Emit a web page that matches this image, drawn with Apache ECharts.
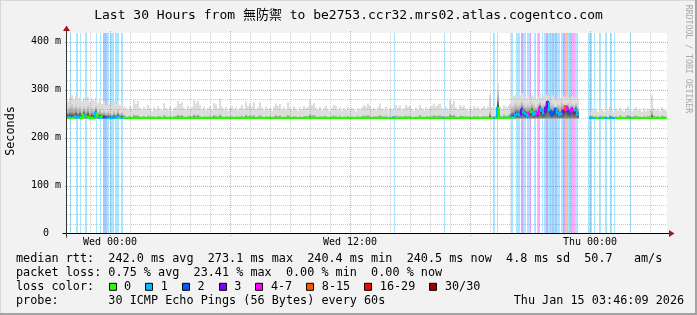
<!DOCTYPE html>
<html><head><meta charset="utf-8">
<script src="https://cdn.jsdelivr.net/npm/echarts@6/dist/echarts.min.js"></script>
<style>html,body{margin:0;padding:0;background:#f2f2f2}#c{width:697px;height:315px}</style>
</head><body><div id="c"></div><script>
// ---- time base (hours relative to Wed 00:00) ----
const startHour = -2.15;
const endHour = 27.85;
const smokeStepHours = 0.1;   // smoke / median columns (6 min)
const lossStepHours = 0.05;   // loss steps (3 min)
const smokeFloor = 240;       // lowest ping (ms)

// ---- smoke: highest ping per column (ms) ----
const smokeTop = [
275,283,288,280,286,279,284,276,282,278,285,274,281,277,283,272,279,270,276,268,274,270,266,276,270,279,268,272,265,
262,258,266,260,278,270,276,262,257,264,
259,268,261,255,263,258,266,260,257,272,
262,258,265,256,261,264,276,270,274,262,
258,266,260,263,278,271,277,268,259,264,
257,262,266,258,272,269,261,281,265,258,
263,256,261,266,259,263,257,262,268,260,
275,266,271,264,274,259,263,274,262,257,
265,259,262,256,264,271,266,270,259,263,
257,274,262,258,265,260,256,263,259,266,
261,264,278,268,272,262,258,264,257,261,
266,259,255,262,268,266,259,263,256,261,
258,264,257,262,259,255,261,258,263,268,
264,271,266,259,262,257,263,271,260,258,
264,257,261,259,263,268,262,267,258,261,
268,264,267,259,256,262,258,268,261,257,
263,259,262,266,271,265,269,271,262,258,
264,260,278,270,276,263,259,268,264,267,
260,257,263,259,266,261,264,258,262,266,
260,264,289,263,266,
262,313,265,260,268,263,266,270,
282,286,290,284,288,292,285,281,287,283,289,285,280,286,291,284,288,292,287,282,289,285,280,287,283,290,286,284,289,282,286,283,288,280,
null,null,null,null,null,
258,262,256,260,254,263,259,255,261,257,264,258,253,260,256,262,257,254,261,265,258,255,260,263,257,259,254,261,256,260,258,289,262,257,260,255,263,258,256
];
// ---- smoke: upper edge of the dense core per column (ms) ----
const smokeMid = [
262,266,270,264,268,262,267,258,265,260,268,257,263,259,266,255,261,254,258,252,256,253,250,257,252,259,251,254,249,
245,244,246,244,249,247,248,245,243,246,
244,247,245,243,245,244,246,245,243,248,
245,244,246,243,245,246,249,247,248,245,
244,246,245,245,250,247,249,246,244,245,
243,245,246,244,248,247,245,250,246,244,
245,243,245,246,244,245,243,245,247,244,
249,246,248,245,248,244,245,248,245,243,
246,244,245,243,245,248,246,247,244,245,
243,248,245,244,246,244,243,245,244,246,
245,246,250,247,248,245,244,246,243,245,
246,244,243,245,247,246,244,245,243,245,
244,246,243,245,244,243,245,244,246,247,
246,248,246,244,245,243,246,248,245,244,
246,243,245,244,245,247,245,246,244,245,
247,245,246,244,243,245,244,247,245,243,
245,244,245,246,248,246,247,248,245,244,
246,245,250,247,249,245,244,247,246,246,
245,243,245,244,246,245,246,244,245,246,
244,246,255,245,246,
247,300,248,245,249,246,248,252,
266,270,274,268,272,276,270,266,271,267,273,269,265,270,275,268,272,277,280,266,273,269,264,271,267,275,270,268,273,266,270,267,272,264,
null,null,null,null,null,
245,247,244,246,244,247,245,244,246,243,248,245,244,246,244,247,244,243,246,248,245,243,246,247,244,245,243,246,244,246,245,258,247,244,246,243,247,245,244
];
// ---- median rtt per column (ms) ----
const medianRtt = [
242,243,241,242,245,242,244,241,248,243,244,241,242,241,252,244,241,243,242,242,241,241,242,241,242,243,242,241,241,
241,241,242,241,241,242,241,241,241,242,
241,241,241,242,241,241,241,242,241,241,
242,241,241,241,241,242,241,241,242,241,
241,241,242,241,241,241,242,241,241,241,
242,241,241,241,242,241,241,241,242,241,
241,242,241,241,241,241,242,241,241,241,
242,241,241,242,241,241,241,241,242,241,
241,241,242,241,241,241,241,242,241,241,
241,242,241,241,241,242,241,241,241,241,
242,241,241,241,242,241,241,241,241,242,
241,241,241,242,241,241,241,242,241,241,
241,242,241,241,241,241,242,241,241,241,
242,241,241,241,241,242,241,241,241,242,
241,241,241,241,242,241,241,241,242,241,
241,241,242,241,241,241,241,242,241,241,
241,242,241,241,241,242,241,241,241,242,
241,241,241,242,241,241,241,241,242,241,
241,242,241,241,241,241,242,241,241,241,
242,241,241,241,241,
241,262,242,241,241,242,241,242,
243,242,247,250,246,258,252,249,245,251,255,247,252,249,262,256,250,262,274,257,248,253,260,251,246,250,256,266,258,252,260,255,258,247,
null,null,null,null,null,
242,241,241,242,241,241,241,242,241,241,241,242,241,241,241,241,242,241,241,241,242,241,241,241,242,241,241,241,241,242,241,241,241,242,241,241,241,242,241
];
// ---- packet loss (3-minute step index from graph start, lost pings out of 30) ----
const lossStep = [
3,9,10,13,18,19,29,33,36,37,38,39,40,41,43,44,45,46,48,49,50,51,54,55,
327,377,
426,427,430,
444,445,449,450,451,452,454,455,456,457,458,460,461,462,463,467,468,470,471,472,475,477,478,479,480,481,482,483,484,485,486,487,488,489,490,491,492,494,495,496,497,498,499,500,501,502,503,504,505,506,507,508,509,510,
521,522,523,524,527,532,533,538,539,543,544,547,563
];
const lossCount = [
1,1,1,1,1,1,1,1,2,2,2,2,1,1,1,1,1,1,1,1,1,1,1,1,
1,1,
1,1,1,
1,1,1,1,1,1,3,3,1,1,1,1,1,1,5,1,1,1,5,5,1,1,1,3,3,1,1,1,1,2,2,1,2,2,1,1,1,1,1,3,3,5,9,5,1,2,1,2,5,5,5,1,1,1,
1,1,1,1,1,1,1,1,1,1,1,1,1
];
// ---- ticks / legend ----
const xTickHours = [0, 12, 24];
const xTickLabels = ['Wed 00:00', 'Wed 12:00', 'Thu 00:00'];
const yTicks = [0, 100, 200, 300, 400];
const lossLabels = ['0', '1', '2', '3', '4-7', '8-15', '16-29', '30/30'];
const lossColors = ['#26ff00', '#00b8ff', '#0059ff', '#7e00ff', '#ff00ff', '#ff5500', '#ff0000', '#a10000'];
const titleText = 'Last 30 Hours from 無防禦 to be2753.ccr32.mrs02.atlas.cogentco.com';
const statLines = [
  'median rtt:  242.0 ms avg  273.1 ms max  240.4 ms min  240.5 ms now  4.8 ms sd  50.7   am/s',
  'packet loss: 0.75 % avg  23.41 % max  0.00 % min  0.00 % now'
];
const probeText = 'probe:       30 ICMP Echo Pings (56 Bytes) every 60s';
const dateText = 'Thu Jan 15 03:46:09 2026';

// ---------------------------------------------------------------
const MONO = "'DejaVu Sans Mono', 'Noto Sans CJK TC', monospace";
const G = {left: 67, top: 33, width: 600, height: 200.5};
const yMax = 418;
function bucket(c) { if (c <= 0) return 0; if (c <= 3) return c; if (c <= 7) return 4; if (c <= 15) return 5; if (c <= 29) return 6; return 7; }
const lossAt = new Map(lossStep.map((s, i) => [s, lossCount[i]]));

const lossData = lossStep.map((s, i) => [startHour + s * lossStepHours, startHour + (s + 1) * lossStepHours, bucket(lossCount[i])]);
const smokeData = [], medianData = [];
let prev = null;
for (let k = 0; k < smokeTop.length; k++) {
  const x0 = startHour + k * smokeStepHours, x1 = x0 + smokeStepHours;
  if (smokeTop[k] != null) smokeData.push([x0, x1, smokeTop[k], smokeMid[k], medianRtt[k]]);
  const m = medianRtt[k];
  if (m == null) { prev = null; continue; }
  const c = Math.max(lossAt.get(2 * k) || 0, lossAt.get(2 * k + 1) || 0);
  medianData.push([x0, x1, prev == null ? m : prev, m, bucket(c)]);
  prev = m;
}
const vGrid = [], hGrid = [];
for (let h = Math.ceil(startHour); h <= Math.floor(endHour); h++) vGrid.push([h, 0, h % 6 === 0 ? 1 : 0]);
for (let v = 20; v <= yMax; v += 20) hGrid.push([startHour, v, v % 100 === 0 ? 1 : 0]);

const MINOR = 'rgba(128,128,128,0.4)', MAJOR = 'rgba(255,0,0,0.4)';

const chart = echarts.init(document.getElementById('c'), null, {renderer: 'canvas', width: 697, height: 315});

const graphics = [];
// frame
graphics.push({type: 'rect', shape: {x: 0, y: 0, width: 697, height: 1}, style: {fill: '#d8d8d8'}, silent: true});
graphics.push({type: 'rect', shape: {x: 0, y: 0, width: 1, height: 315}, style: {fill: '#d8d8d8'}, silent: true});
graphics.push({type: 'rect', shape: {x: 695, y: 0, width: 2, height: 315}, style: {fill: '#a4a4a4'}, silent: true});
graphics.push({type: 'rect', shape: {x: 0, y: 313, width: 697, height: 2}, style: {fill: '#a4a4a4'}, silent: true});
// title & side texts
graphics.push({type: 'text', x: 348.5, y: 15.5, style: {text: titleText, fontFamily: MONO, fontSize: 13, fill: '#000', align: 'center', verticalAlign: 'middle', textAlign: 'center', textVerticalAlign: 'middle'}});
graphics.push({type: 'text', x: 10.5, y: 131, rotation: Math.PI / 2, style: {text: 'Seconds', fontFamily: MONO, fontSize: 11.8, fill: '#000', align: 'center', verticalAlign: 'middle', textAlign: 'center', textVerticalAlign: 'middle'}});
graphics.push({type: 'text', x: 688, y: 59, rotation: -Math.PI / 2, style: {text: 'RRDTOOL / TOBI OETIKER', fontFamily: MONO, fontSize: 8.2, fill: '#a8a8a8', align: 'center', verticalAlign: 'middle', textAlign: 'center', textVerticalAlign: 'middle'}});
// stats lines
const LX = 16, CW = 7.1, LFS = 11.8;
const lineY = [259.3, 273.3, 287.3, 300.7];
statLines.forEach((t, i) => graphics.push({type: 'text', x: LX, y: lineY[i], style: {text: t, fontFamily: MONO, fontSize: LFS, fill: '#000', align: 'left', verticalAlign: 'middle', textAlign: 'left', textVerticalAlign: 'middle'}}));
graphics.push({type: 'text', x: LX, y: lineY[2], style: {text: 'loss color:', fontFamily: MONO, fontSize: LFS, fill: '#000', align: 'left', verticalAlign: 'middle', textAlign: 'left', textVerticalAlign: 'middle'}});
let bx = 108.7;
lossLabels.forEach((lab, i) => {
  graphics.push({type: 'rect', shape: {x: Math.round(bx) + 0.5, y: lineY[2] - 4, width: 7, height: 7}, style: {fill: lossColors[i], stroke: '#000', lineWidth: 1}});
  const tx = bx + 15.4;
  graphics.push({type: 'text', x: tx, y: lineY[2], style: {text: lab, fontFamily: MONO, fontSize: LFS, fill: '#000', align: 'left', verticalAlign: 'middle', textAlign: 'left', textVerticalAlign: 'middle'}});
  bx = tx + lab.length * CW + 14.2;
});
graphics.push({type: 'text', x: LX, y: lineY[3], style: {text: probeText, fontFamily: MONO, fontSize: LFS, fill: '#000', align: 'left', verticalAlign: 'middle', textAlign: 'left', textVerticalAlign: 'middle'}});
graphics.push({type: 'text', x: 513.7, y: lineY[3], style: {text: dateText, fontFamily: MONO, fontSize: LFS, fill: '#000', align: 'left', verticalAlign: 'middle', textAlign: 'left', textVerticalAlign: 'middle'}});
// axes with arrows (rrdtool style)
const X0 = G.left - 0.5, Y0 = G.top + G.height, XR = G.left + G.width, YT = G.top;
graphics.push({type: 'line', z: 100, shape: {x1: X0 - 4, y1: Y0, x2: XR + 4, y2: Y0}, style: {stroke: '#000', lineWidth: 1}});
graphics.push({type: 'line', z: 100, shape: {x1: X0, y1: Y0 + 4, x2: X0, y2: YT - 4}, style: {stroke: '#333', lineWidth: 1}});
graphics.push({type: 'polygon', z: 100, shape: {points: [[XR + 2, Y0 - 3.5], [XR + 2, Y0 + 3.5], [XR + 7.5, Y0]]}, style: {fill: '#a01818'}});
graphics.push({type: 'polygon', z: 100, shape: {points: [[X0 - 3.5, YT - 2], [X0 + 3.5, YT - 2], [X0, YT - 7.5]]}, style: {fill: '#a01818'}});

chart.setOption({
  animation: false,
  backgroundColor: '#f2f2f2',
  grid: {left: G.left, top: G.top, width: G.width, height: G.height, show: true, backgroundColor: '#ffffff', borderWidth: 0},
  xAxis: {
    type: 'value', min: startHour, max: endHour,
    axisLine: {show: false}, axisTick: {show: false}, splitLine: {show: false},
    axisLabel: {customValues: xTickHours, formatter: v => xTickLabels[xTickHours.indexOf(v)] || '', fontFamily: MONO, fontSize: 10, color: '#000', margin: 4}
  },
  yAxis: {
    type: 'value', min: 0, max: yMax,
    axisLine: {show: false}, axisTick: {show: false}, splitLine: {show: false},
    axisLabel: {customValues: yTicks, formatter: v => v === 0 ? '0  ' : v + ' m', fontFamily: MONO, fontSize: 10, color: '#000', margin: 6}
  },
  graphic: graphics,
  series: [
    { // loss background bars
      type: 'custom', name: 'loss', clip: true, silent: true,
      encode: {x: [0, 1]},
      data: lossData,
      renderItem(params, api) {
        const a = api.coord([api.value(0), 0]), b = api.coord([api.value(1), 0]);
        const cs = params.coordSys;
        return {type: 'rect', shape: {x: a[0], y: cs.y, width: b[0] - a[0], height: cs.height},
          style: {fill: echarts.color.modifyAlpha(lossColors[api.value(2)], 0.34)}};
      }
    },
    { // smoke
      type: 'custom', name: 'smoke', clip: true, silent: true,
      encode: {x: [0, 1], y: [2, 3]},
      data: smokeData,
      renderItem(params, api) {
        const x0 = api.value(0), x1 = api.value(1), top = api.value(2), mid = api.value(3), med = api.value(4);
        const a = api.coord([x0, smokeFloor]), b = api.coord([x1, top]), m = api.coord([x1, mid]);
        const w = b[0] - a[0];
        const ch = [{type: 'rect', shape: {x: a[0], y: b[1], width: w, height: a[1] - b[1]}, style: {fill: '#dddddd'}}];
        if (mid > smokeFloor) {
          const off = Math.min(1, Math.max(0, (mid - med) / (mid - smokeFloor)));
          ch.push({type: 'rect', shape: {x: a[0], y: m[1], width: w, height: a[1] - m[1]},
            style: {fill: new echarts.graphic.LinearGradient(0, 0, 0, 1, [
              {offset: 0, color: '#d6d6d6'}, {offset: off * 0.55, color: '#a8a8a8'},
              {offset: off, color: '#2e2e2e'}, {offset: 1, color: '#8c8c8c'}])}});
        }
        return {type: 'group', children: ch};
      }
    },
    { // median rtt coloured by loss
      type: 'custom', name: 'median', clip: true, silent: true,
      encode: {x: [0, 1], y: [2, 3]},
      data: medianData,
      renderItem(params, api) {
        const x0 = api.value(0), x1 = api.value(1), p = api.value(2), c = api.value(3);
        const a = api.coord([x0, p]), b = api.coord([x0, c]), d = api.coord([x1, c]);
        return {type: 'polyline', shape: {points: [a, b, d]}, style: {stroke: lossColors[api.value(4)], lineWidth: 2, fill: null}};
      }
    },
    { // vertical grid
      type: 'custom', name: 'vgrid', clip: false, silent: true,
      encode: {x: 0, y: 1},
      data: vGrid,
      renderItem(params, api) {
        const p = api.coord([api.value(0), 0]); const cs = params.coordSys;
        const x = Math.round(p[0]) + 0.5, major = api.value(2) === 1;
        return {type: 'line', shape: {x1: x, y1: major ? cs.y - 2 : cs.y, x2: x, y2: major ? cs.y + cs.height + 3 : cs.y + cs.height},
          style: {stroke: major ? MAJOR : MINOR, lineWidth: 1, lineDash: [1, 1]}};
      }
    },
    { // horizontal grid
      type: 'custom', name: 'hgrid', clip: false, silent: true,
      encode: {x: 0, y: 1},
      data: hGrid,
      renderItem(params, api) {
        const p = api.coord([startHour, api.value(1)]); const cs = params.coordSys;
        const y = Math.round(p[1]) + 0.5, major = api.value(2) === 1;
        return {type: 'line', shape: {x1: major ? cs.x - 2 : cs.x, y1: y, x2: major ? cs.x + cs.width + 2 : cs.x + cs.width, y2: y},
          style: {stroke: major ? MAJOR : MINOR, lineWidth: 1, lineDash: [1, 1]}};
      }
    }
  ]
});
</script></body></html>
